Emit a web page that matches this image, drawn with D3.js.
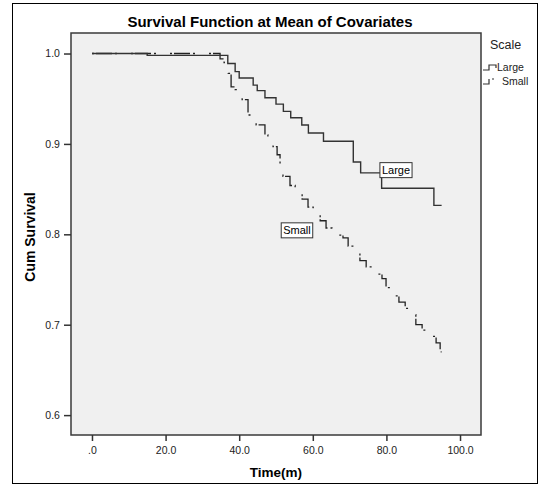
<!DOCTYPE html>
<html>
<head>
<meta charset="utf-8">
<script src="https://cdn.jsdelivr.net/npm/d3@7"></script>
<style>
  body { margin: 0; background: #fff; }
  svg { display: block; }
  text { font-family: "Liberation Sans", Arial, sans-serif; }
</style>
</head>
<body>
<svg id="chart" width="541" height="494"></svg>
<script>
// ---- Data ----
const largeTimes = [0, 15.0, 36.9, 38.9, 40.0, 43.8, 44.9, 47.0, 50.0, 52.0, 54.0, 57.0, 58.8, 62.9, 71.0, 73.0, 78.7, 92.9, 95.0];
const largeSurv  = [1.0, 0.998, 0.989, 0.980, 0.973, 0.965, 0.959, 0.951, 0.944, 0.936, 0.929, 0.921, 0.912, 0.903, 0.880, 0.868, 0.851, 0.832, 0.832];

const smallTimes = [0, 34.8, 35.9, 37.0, 37.8, 38.9, 40.8, 42.4, 44.6, 47.0, 47.8, 49.2, 50.3, 51.1, 51.9, 53.8, 55.2, 57.1, 58.7, 60.1, 62.0, 63.6, 65.2, 68.2, 69.6, 71.2, 72.8, 74.5, 76.4, 78.8, 79.9, 81.0, 83.4, 85.1, 86.7, 88.0, 89.7, 91.3, 92.4, 93.5, 94.6, 95.0];
const smallSurv  = [1.0, 0.994, 0.990, 0.978, 0.963, 0.960, 0.949, 0.932, 0.921, 0.910, 0.907, 0.897, 0.888, 0.875, 0.864, 0.854, 0.847, 0.839, 0.830, 0.824, 0.815, 0.807, 0.799, 0.796, 0.787, 0.780, 0.771, 0.764, 0.756, 0.751, 0.741, 0.732, 0.725, 0.718, 0.711, 0.700, 0.694, 0.690, 0.687, 0.680, 0.670, 0.670];

const xTicks = [0, 20, 40, 60, 80, 100];
const xTickLabels = [".0", "20.0", "40.0", "60.0", "80.0", "100.0"];
const yTicks = [0.6, 0.7, 0.8, 0.9, 1.0];
const yTickLabels = ["0.6", "0.7", "0.8", "0.9", "1.0"];
const seriesNames = ["Large", "Small"];

// ---- Layout ----
const svg = d3.select("#chart");
const plot = { left: 71, top: 33, right: 481, bottom: 435 };

const x = d3.scaleLinear().domain([-5.7, 105.7]).range([plot.left, plot.right]);
const y = d3.scaleLinear().domain([0.578, 1.0227]).range([plot.bottom, plot.top]);

// outer frame
svg.append("rect").attr("x", 12.5).attr("y", 3.5).attr("width", 525).attr("height", 480)
  .attr("fill", "#fff").attr("stroke", "#000").attr("stroke-width", 1);

// plot background
svg.append("rect").attr("x", plot.left).attr("y", plot.top)
  .attr("width", plot.right - plot.left).attr("height", plot.bottom - plot.top)
  .attr("fill", "#f0f0f0").attr("stroke", "#3a3a3a").attr("stroke-width", 1.5);

// title
svg.append("text").attr("x", 270).attr("y", 27).attr("text-anchor", "middle")
  .attr("font-size", 15).attr("font-weight", "bold").attr("fill", "#000")
  .text("Survival Function at Mean of Covariates");

// axes
const xAxis = d3.axisBottom(x).tickValues(xTicks).tickSize(6).tickSizeOuter(0)
  .tickFormat((d, i) => xTickLabels[i]);
const gx = svg.append("g").attr("transform", `translate(0,${plot.bottom})`).call(xAxis);
gx.select(".domain").remove();
gx.selectAll(".tick line").attr("stroke", "#333").attr("stroke-width", 1.5);
gx.selectAll(".tick text").attr("font-size", 10.5).attr("fill", "#222")
  .attr("font-family", "Liberation Sans, Arial, sans-serif").attr("dy", "0.95em");

const yAxis = d3.axisLeft(y).tickValues(yTicks).tickSize(7).tickSizeOuter(0)
  .tickFormat((d, i) => yTickLabels[i]);
const gy = svg.append("g").attr("transform", `translate(${plot.left},0)`).call(yAxis);
gy.select(".domain").remove();
gy.selectAll(".tick line").attr("stroke", "#333").attr("stroke-width", 1.5);
gy.selectAll(".tick text").attr("font-size", 10.5).attr("fill", "#222")
  .attr("font-family", "Liberation Sans, Arial, sans-serif").attr("dx", "-0.1em");

// axis titles
svg.append("text").attr("x", 276).attr("y", 477).attr("text-anchor", "middle")
  .attr("font-size", 13.5).attr("font-weight", "bold").text("Time(m)");
svg.append("text").attr("transform", "translate(35,237) rotate(-90)").attr("text-anchor", "middle")
  .attr("font-size", 14).attr("font-weight", "bold").text("Cum Survival");

// lines
const line = d3.line().x(d => x(d[0])).y(d => y(d[1])).curve(d3.curveStepAfter);
const largeData = largeTimes.map((t, i) => [t, largeSurv[i]]);
const smallData = smallTimes.map((t, i) => [t, smallSurv[i]]);

svg.append("path").datum(smallData).attr("d", line)
  .attr("fill", "none").attr("stroke", "#222").attr("stroke-width", 1.3)
  .attr("stroke-dasharray", "2,2,16,3,2,14");
svg.append("path").datum(largeData).attr("d", line)
  .attr("fill", "none").attr("stroke", "#333").attr("stroke-width", 1.4);

// in-plot labels
function boxLabel(txt, t, v) {
  const g = svg.append("g");
  const tx = g.append("text").attr("x", x(t)).attr("y", y(v) + 4).attr("text-anchor", "middle")
    .attr("font-size", 11).attr("fill", "#000").text(txt);
  const bb = tx.node().getBBox();
  g.insert("rect", "text").attr("x", bb.x - 2).attr("y", y(v) - 7.5)
    .attr("width", bb.width + 4).attr("height", 15)
    .attr("fill", "#fff").attr("stroke", "#333").attr("stroke-width", 1);
}
boxLabel(seriesNames[0], 82.6, 0.871);
boxLabel(seriesNames[1], 55.7, 0.8044);

// legend
svg.append("text").attr("x", 490).attr("y", 49).attr("font-size", 12.5).attr("fill", "#222").text("Scale");
const lg = svg.append("g");
// Large symbol
lg.append("path").attr("d", "M483,70 H489 V65 H496 V68").attr("fill", "none").attr("stroke", "#333").attr("stroke-width", 1.2);
lg.append("text").attr("x", 497).attr("y", 71).attr("font-size", 10.5).attr("fill", "#222").text(seriesNames[0]);
// Small symbol
lg.append("path").attr("d", "M483,84 H489 V79").attr("fill", "none").attr("stroke", "#333").attr("stroke-width", 1.2);
lg.append("path").attr("d", "M492,79 H494").attr("fill", "none").attr("stroke", "#333").attr("stroke-width", 1.2);
lg.append("text").attr("x", 502).attr("y", 85).attr("font-size", 10.5).attr("fill", "#222").text(seriesNames[1]);
</script>
</body>
</html>
